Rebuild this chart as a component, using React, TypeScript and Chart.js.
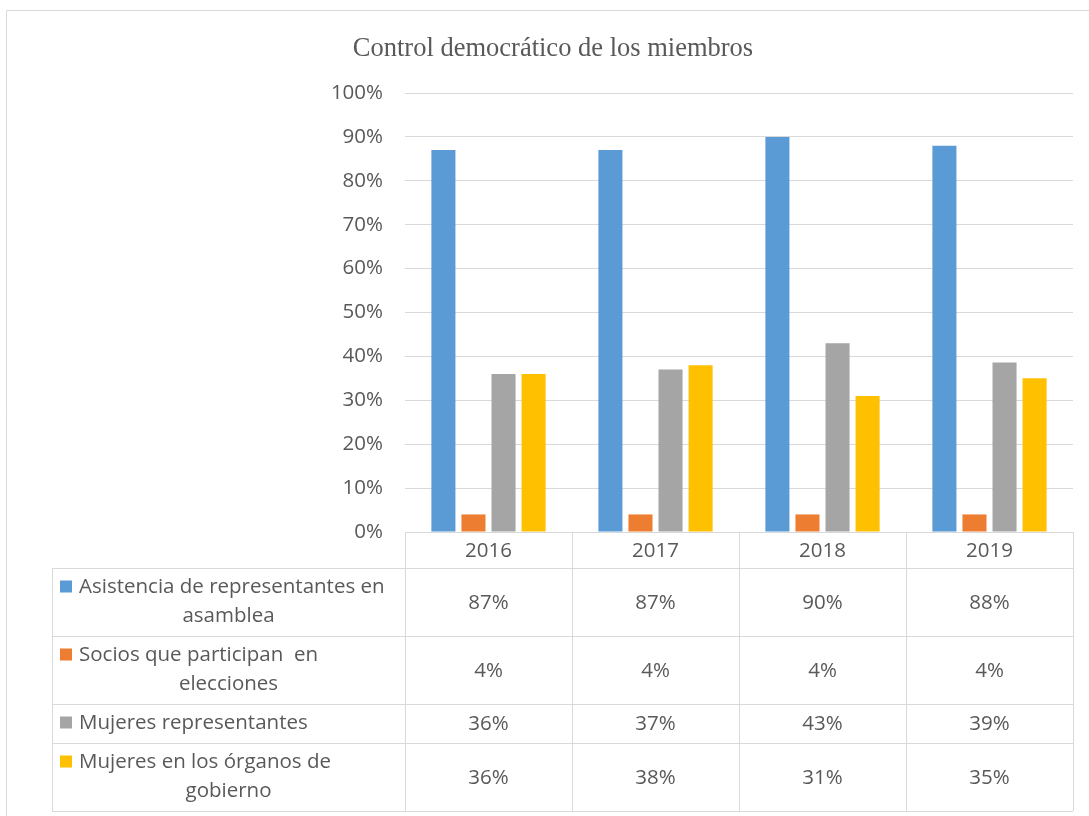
import React, { useEffect, useRef } from "react";
import { Chart, registerables } from "chart.js";

Chart.register(...registerables);

const title = "Control democrático de los miembros";
const categories = ["2016", "2017", "2018", "2019"];
const seriesNames = [
  "Asistencia de representantes en asamblea",
  "Socios que participan  en elecciones",
  "Mujeres representantes",
  "Mujeres en los órganos de gobierno",
];
const asistencia = [87, 87, 90, 88];
const socios = [4, 4, 4, 4];
const mujeresRepresentantes = [36, 37, 43, 38.6];
const mujeresOrganos = [36, 38, 31, 35];
const seriesColors = ["#5B9BD5", "#ED7D31", "#A5A5A5", "#FFC000"];
const yTicks = [0, 10, 20, 30, 40, 50, 60, 70, 80, 90, 100];

const TEXT = "#595959";
const GRID = "#D9D9D9";
const FONT = "'Open Sans', sans-serif";
const FS = 20.5;

const tablePlugin = {
  id: "dataTable",
  beforeDraw(chart: any) {
    const ctx = chart.ctx;
    ctx.save();
    ctx.fillStyle = "#ffffff";
    ctx.fillRect(0, 0, chart.width, chart.height);
    ctx.strokeStyle = GRID;
    ctx.lineWidth = 1;
    ctx.beginPath();
    ctx.moveTo(6.5, chart.height);
    ctx.lineTo(6.5, 10.5);
    ctx.lineTo(chart.width, 10.5);
    ctx.stroke();
    ctx.restore();
  },
  afterDraw(chart: any) {
    const ctx = chart.ctx;
    const area = chart.chartArea;
    const xs = chart.scales.x;
    const n = categories.length;
    const w = (area.right - area.left) / n;
    const legendLeft = 52;
    const headerBottom = area.bottom + 36;
    const lineH = 29;
    ctx.save();
    ctx.font = `${FS}px ${FONT}`;
    const sq = 12;
    const sqGap = 7;
    const sqLeft = legendLeft + 8;
    const maxW = area.left - sqLeft - 8;
    const wrapped = chart.data.datasets.map((ds: any) => {
      const words = ds.label.split(" ");
      const lines: string[] = [];
      let cur = "";
      for (const word of words) {
        const test = cur === "" ? word : cur + " " + word;
        const extra = lines.length === 0 ? sq + sqGap : 0;
        if (cur !== "" && ctx.measureText(test).width + extra > maxW) {
          lines.push(cur);
          cur = word;
        } else {
          cur = test;
        }
      }
      lines.push(cur);
      return lines;
    });
    const rows: { top: number; bottom: number }[] = [];
    let y = headerBottom;
    wrapped.forEach((lines: string[]) => {
      const h = lines.length * lineH + 10;
      rows.push({ top: y, bottom: y + h });
      y += h;
    });
    const tableBottom = y;
    ctx.strokeStyle = GRID;
    ctx.lineWidth = 1;
    ctx.beginPath();
    for (let i = 0; i <= n; i++) {
      const x = Math.round(area.left + i * w) + 0.5;
      ctx.moveTo(x, area.bottom);
      ctx.lineTo(x, tableBottom);
    }
    ctx.moveTo(legendLeft + 0.5, headerBottom);
    ctx.lineTo(legendLeft + 0.5, tableBottom);
    ctx.moveTo(legendLeft, headerBottom + 0.5);
    ctx.lineTo(area.right, headerBottom + 0.5);
    rows.forEach((r) => {
      ctx.moveTo(legendLeft, Math.round(r.bottom) + 0.5);
      ctx.lineTo(area.right, Math.round(r.bottom) + 0.5);
    });
    ctx.stroke();
    ctx.fillStyle = TEXT;
    ctx.textAlign = "center";
    ctx.textBaseline = "middle";
    categories.forEach((c, i) => {
      ctx.fillText(c, xs.getPixelForValue(i), (area.bottom + headerBottom) / 2 + 1);
    });
    const legendCenter = (legendLeft + area.left) / 2;
    chart.data.datasets.forEach((ds: any, r: number) => {
      const lines = wrapped[r];
      const row = rows[r];
      const startY = (row.top + row.bottom) / 2 - ((lines.length - 1) * lineH) / 2;
      lines.forEach((ln: string, li: number) => {
        const ly = startY + li * lineH;
        if (li === 0) {
          ctx.fillStyle = ds.backgroundColor;
          ctx.fillRect(sqLeft, ly - sq / 2 - 1, sq, sq);
          ctx.fillStyle = TEXT;
          ctx.textAlign = "left";
          ctx.fillText(ln, sqLeft + sq + sqGap, ly);
        } else {
          ctx.fillStyle = TEXT;
          ctx.textAlign = "center";
          ctx.fillText(ln, legendCenter, ly);
        }
      });
      ctx.fillStyle = TEXT;
      ctx.textAlign = "center";
      ds.data.forEach((v: number, i: number) => {
        ctx.fillText(Math.round(v) + "%", xs.getPixelForValue(i), (row.top + row.bottom) / 2 + 1);
      });
    });
    ctx.font = "26.5px 'Liberation Serif', 'Times New Roman', serif";
    ctx.textAlign = "center";
    ctx.textBaseline = "alphabetic";
    ctx.fillStyle = TEXT;
    ctx.fillText(title, 553, 56);
    ctx.restore();
  },
};

export default function App() {
  const ref = useRef<HTMLCanvasElement | null>(null);
  useEffect(() => {
    if (!ref.current) return;
    const values = [asistencia, socios, mujeresRepresentantes, mujeresOrganos];
    const chart = new Chart(ref.current, {
      type: "bar",
      data: {
        labels: categories,
        datasets: seriesNames.map((name, i) => ({
          label: name,
          data: values[i],
          backgroundColor: seriesColors[i],
          borderWidth: 0,
          categoryPercentage: 0.72,
          barPercentage: 0.8,
        })),
      },
      options: {
        animation: false,
        responsive: false,
        maintainAspectRatio: false,
        layout: { padding: { top: 93, bottom: 284, left: 0, right: 16 } },
        plugins: {
          legend: { display: false },
          title: { display: false },
          tooltip: { enabled: false },
        },
        scales: {
          x: { display: false },
          y: {
            min: 0,
            max: 100,
            afterFit: (scale: any) => {
              scale.width = 405;
            },
            afterBuildTicks: (scale: any) => {
              scale.ticks = yTicks.map((v) => ({ value: v }));
            },
            ticks: {
              callback: (v: any) => v + "%",
              color: TEXT,
              font: { family: FONT, size: FS },
              padding: 22,
            },
            grid: { color: GRID, lineWidth: 1, drawTicks: false },
            border: { display: false },
          },
        },
      },
      plugins: [tablePlugin],
    });
    return () => chart.destroy();
  }, []);
  return (
    <div style={{ position: "fixed", left: 0, top: 0, width: 1089, height: 816 }}>
      <canvas ref={ref} width={1089} height={816} style={{ display: "block" }} />
    </div>
  );
}
